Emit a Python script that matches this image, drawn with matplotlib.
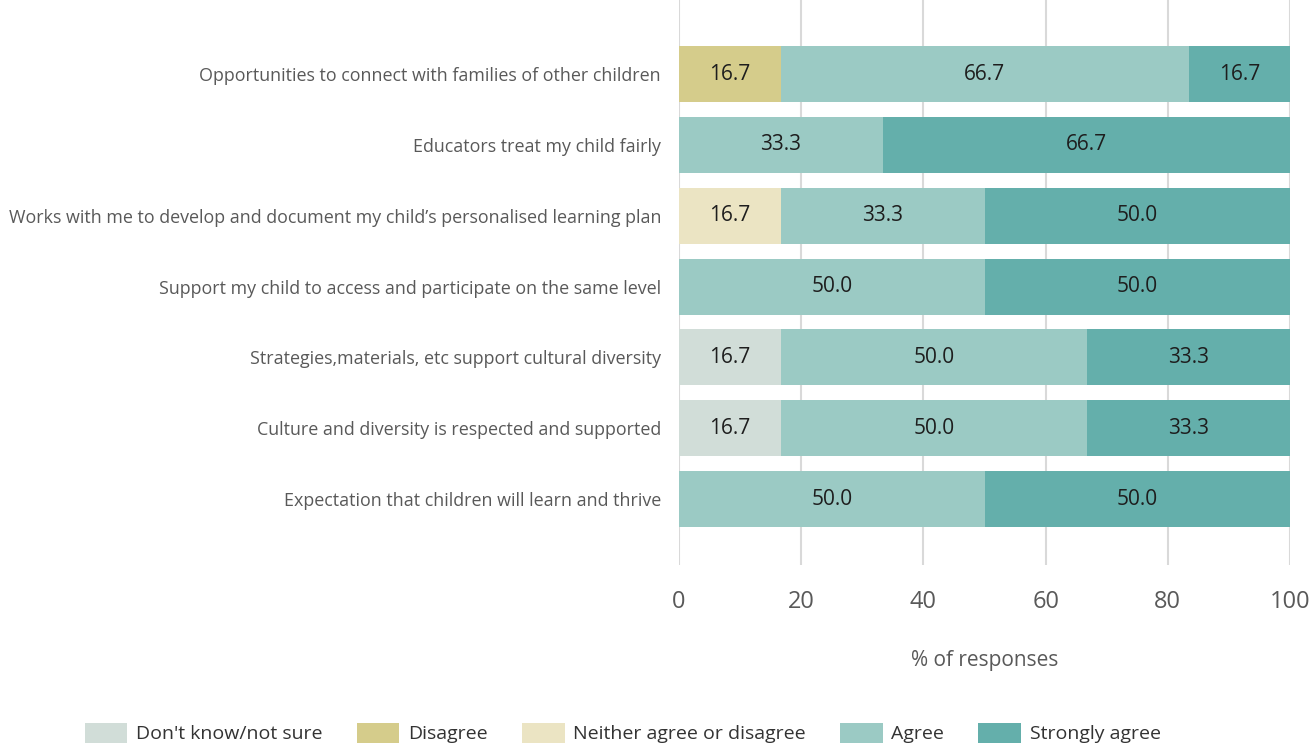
import matplotlib.pyplot as plt
import numpy as np

plt.rcParams['font.family'] = ['Open Sans', 'DejaVu Sans']

categories = [
    'Opportunities to connect with families of other children',
    'Educators treat my child fairly',
    'Works with me to develop and document my child\u2019s personalised learning plan',
    'Support my child to access and participate on the same level',
    'Strategies,materials, etc support cultural diversity',
    'Culture and diversity is respected and supported',
    'Expectation that children will learn and thrive',
]
dont_know = [0, 0, 0, 0, 16.7, 16.7, 0]
disagree = [16.7, 0, 0, 0, 0, 0, 0]
neither = [0, 0, 16.7, 0, 0, 0, 0]
agree = [66.7, 33.3, 33.3, 50.0, 50.0, 50.0, 50.0]
strongly = [16.7, 66.7, 50.0, 50.0, 33.3, 33.3, 50.0]

series = [
    ("Don't know/not sure", dont_know, '#d1ddd8'),
    ('Disagree', disagree, '#d5cc8b'),
    ('Neither agree or disagree', neither, '#ebe4c3'),
    ('Agree', agree, '#9bcac4'),
    ('Strongly agree', strongly, '#64afab'),
]

fig = plt.figure(figsize=(13.11, 7.49), dpi=100)
ax = fig.add_axes([0.518, 0.2457, 0.466, 0.7543])

y = np.arange(len(categories))
left = np.zeros(len(categories))
for name, vals, col in series:
    vals = np.array(vals)
    ax.barh(y, vals, left=left, height=0.79, color=col, label=name, zorder=2)
    for yi, v, l in zip(y, vals, left):
        if v > 0:
            ax.text(l + v / 2, yi, f'{v:.1f}', ha='center', va='center',
                    fontsize=15, color='#1e1e1e', zorder=3)
    left += vals

ax.set_xlim(0, 100)
ax.set_ylim(6.93, -1.045)
ax.set_yticks(y)
ax.set_yticklabels(categories, fontsize=12.9, color='#595959')
ax.set_xticks(np.arange(0, 101, 20))
ax.tick_params(axis='x', labelsize=17, colors='#595959', length=0, pad=18)
ax.tick_params(axis='y', length=0, pad=13)
ax.xaxis.grid(True, color='#d9d9d9', linewidth=1.5, zorder=0)
for s in ax.spines.values():
    s.set_visible(False)
ax.set_xlabel('% of responses', fontsize=15, color='#595959', labelpad=26)

fig.legend(loc='lower center', ncol=5, frameon=False, fontsize=14,
           bbox_to_anchor=(0.475, -0.016), handlelength=2.2, handleheight=1.15,
           handletextpad=0.45, columnspacing=1.75, labelcolor='#333333')

plt.savefig('out.png')
